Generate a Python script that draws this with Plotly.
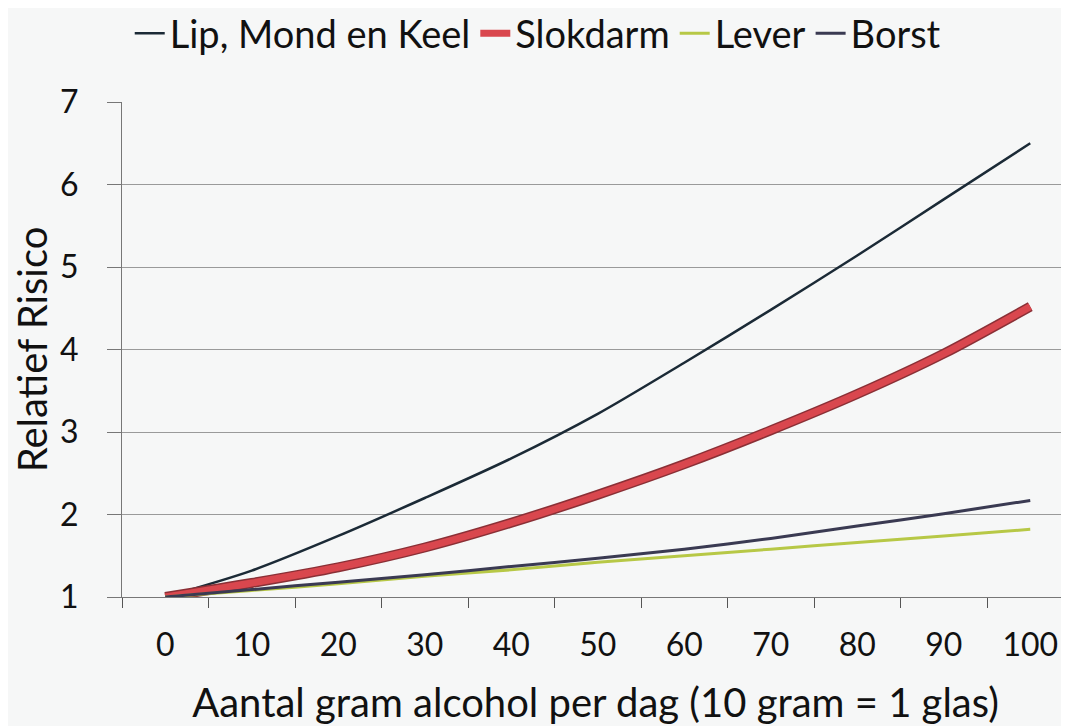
import plotly.graph_objects as go

gram = ["0", "10", "20", "30", "40", "50", "60", "70", "80", "90", "100"]
lip_mond_keel = [1.0, 1.32, 1.74, 2.20, 2.68, 3.22, 3.84, 4.48, 5.14, 5.82, 6.50]
slokdarm = [1.0, 1.17, 1.36, 1.60, 1.90, 2.24, 2.61, 3.02, 3.46, 3.95, 4.52]
lever = [1.0, 1.08, 1.16, 1.25, 1.33, 1.42, 1.50, 1.58, 1.66, 1.74, 1.82]
borst = [1.0, 1.09, 1.18, 1.27, 1.37, 1.47, 1.58, 1.71, 1.86, 2.01, 2.17]

FONT = "Lato"
fig = go.Figure()
fig.add_trace(go.Scatter(x=gram, y=lip_mond_keel, name="Lip, Mond en Keel", mode="lines",
                         line=dict(color="#1b2a36", width=2.5, shape="spline", smoothing=0.8)))
fig.add_trace(go.Scatter(x=gram, y=slokdarm, name="Slokdarm_outline", mode="lines", showlegend=False,
                         hoverinfo="skip",
                         line=dict(color="#8a3036", width=10, shape="spline", smoothing=0.8)))
fig.add_trace(go.Scatter(x=gram, y=slokdarm, name="Slokdarm", mode="lines",
                         line=dict(color="#d9474e", width=7, shape="spline", smoothing=0.8)))
fig.add_trace(go.Scatter(x=gram, y=lever, name="Lever", mode="lines",
                         line=dict(color="#b7c846", width=3, shape="spline", smoothing=0.8)))
fig.add_trace(go.Scatter(x=gram, y=borst, name="Borst", mode="lines",
                         line=dict(color="#3a3a52", width=3, shape="spline", smoothing=0.8)))

fig.update_layout(
    width=1061, height=718,
    margin=dict(l=114, r=0, t=94, b=129, autoexpand=False),
    paper_bgcolor="#f6f7f7", plot_bgcolor="#f6f7f7",
    font=dict(family=FONT, size=32, color="#111111"),
    showlegend=True,
    legend=dict(orientation="h", x=0.439, xanchor="center", y=1.202, yanchor="top",
                font=dict(size=38), bgcolor="rgba(0,0,0,0)", traceorder="normal",
                itemwidth=30),
)
fig.update_xaxes(
    type="category", range=[-0.5, 10.448], tickson="boundaries",
    ticks="outside", ticklen=10, tickcolor="#555", tickwidth=1,
    showgrid=False, showline=True, linecolor="#777", linewidth=1,
    ticklabelstandoff=20, tickfont=dict(size=32),
    title=dict(text="Aantal gram alcohol per dag (10 gram = 1 glas)", font=dict(size=40), standoff=34),
    zeroline=False, automargin=False,
)
fig.update_yaxes(
    range=[1, 7], tickvals=[1, 2, 3, 4, 5, 6, 7], ticks="outside", ticklen=14,
    tickcolor="#777", tickwidth=1,
    showgrid=True, gridcolor="#9a9a9a", gridwidth=1,
    showline=True, linecolor="#777", linewidth=1,
    ticklabelstandoff=22, tickfont=dict(size=32),
    title=dict(text="Relatief Risico", font=dict(size=40), standoff=8),
    zeroline=False, automargin=False,
)
fig.write_html("out.html")
